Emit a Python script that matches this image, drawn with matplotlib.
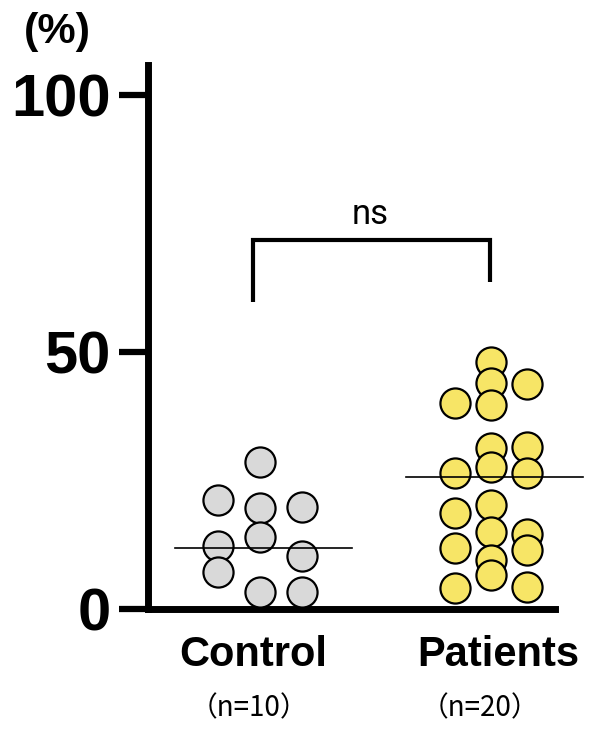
import matplotlib.pyplot as plt
import matplotlib as mpl
import numpy as np

# values (%)
groups = ["Control", "Patients"]
group_n = ["（n=10）", "（n=20）"]
control = [28.6, 21.2, 19.6, 19.8, 12.3, 14.0, 10.3, 7.2, 3.3, 3.3]
control_col = [0, -1, 0, 1, -1, 0, 1, -1, 0, 1]     # swarm column
patients = [48.1, 44.0, 43.8, 40.1, 39.7, 31.3, 31.5, 26.5, 27.6, 26.5,
            18.7, 20.2, 11.9, 15.0, 14.6, 11.5, 9.5, 6.6, 4.1, 4.3]
patients_col = [0, 0, 1, -1, 0, 0, 1, -1, 0, 1,
                -1, 0, -1, 0, 1, 1, 0, 0, -1, 1]
center_lines = [11.9, 25.7]
yticks = [0, 50, 100]

mpl.rcParams['axes.linewidth'] = 5.0
num_font = ['Liberation Sans', 'DejaVu Sans']

f = plt.figure(figsize=(5.93, 7.36), dpi=100)
ax = f.add_axes([0.2496, 0.1726, 0.936 - 0.2496, 0.9117 - 0.1726])
ax.set_xlim(0.515, 2.277)
ax.set_ylim(0, 105.8)

ax.spines['top'].set_visible(False)
ax.spines['right'].set_visible(False)
ax.set_xticks([])
ax.set_yticks(yticks)
ax.set_yticklabels([str(v) for v in yticks], family=num_font,
                   fontweight='bold', fontsize=43)
ax.tick_params(axis='y', length=21, width=4.5, pad=6)

xs = [1, 2]
data = [control, patients]
cols = [control_col, patients_col]
spread = [0.18, 0.155]
faces = ['#d9d9d9', '#f7e566']
for i in range(2):
    x = xs[i] + np.array(cols[i]) * spread[i]
    ax.scatter(x, data[i], s=470, facecolor=faces[i], edgecolor='black',
               linewidth=1.6, zorder=3, clip_on=False)
    ax.plot([xs[i] - 0.37, xs[i] + 0.40], [center_lines[i]] * 2,
            color='black', lw=1.2, zorder=4, clip_on=False)

# significance bracket
ax.plot([0.97, 0.97, 1.995, 1.995], [59.7, 71.8, 71.8, 63.6],
        color='black', lw=3, solid_joinstyle='miter', solid_capstyle='butt')
ax.text(1.476, 73.6, "ns", ha='center', va='bottom', fontsize=25,
        family=['Roboto', 'DejaVu Sans'])

# group labels
lab_x = [0.97, 2.03]
n_x = [0.95, 1.95]
for i in range(2):
    ax.text(lab_x[i], -0.085, groups[i], transform=ax.get_xaxis_transform(),
            ha='center', va='center', fontsize=30, fontweight='bold',
            family=['Liberation Sans', 'DejaVu Sans'])
    ax.text(n_x[i], -0.183, group_n[i], transform=ax.get_xaxis_transform(),
            ha='center', va='center', fontsize=20,
            family=['Noto Sans CJK JP', 'DejaVu Sans'])

f.text(0.096, 0.957, "(%)", ha='center', va='center', fontsize=31,
       fontweight='bold', family=['Liberation Sans', 'DejaVu Sans'])

f.savefig('out.png', dpi=100)
